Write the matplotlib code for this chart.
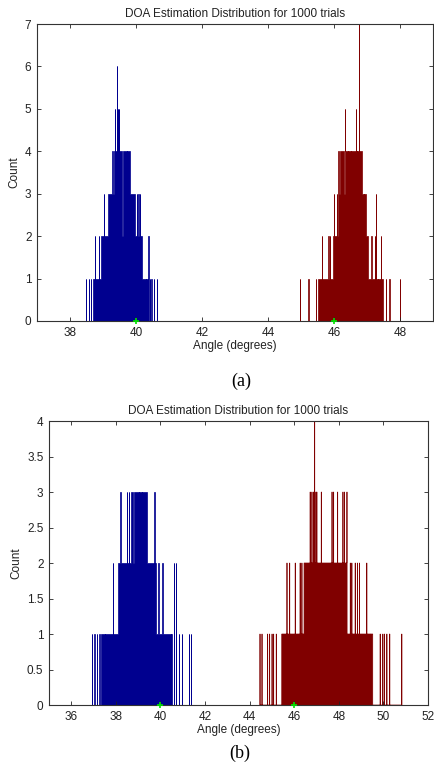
import numpy as np
import matplotlib
matplotlib.use("Agg")
import matplotlib.pyplot as plt

plt.rcParams['font.family'] = ['Liberation Sans', 'DejaVu Sans']

TITLE = "DOA Estimation Distribution for 1000 trials"
XLABEL = "Angle (degrees)"
YLABEL = "Count"
TRUE_DOA = [40, 46]
BIN = 0.01

# panel (a): solid runs (left, right, count), single bins (angle, count), dips (angle, count)
A_BLUE_BANDS = [(38.71, 40.36, 1), (38.95, 40.17, 2), (39.16, 39.97, 3), (39.28, 39.82, 4)]
A_BLUE_SPIKES = [(38.50, 1), (38.57, 1), (38.64, 1), (40.43, 1), (40.47, 1), (40.55, 1), (40.63, 1),
                 (38.76, 2), (38.88, 2), (40.37, 2), (39.03, 3), (40.02, 3), (40.07, 3), (40.12, 3),
                 (39.36, 5), (39.48, 5), (39.44, 5), (39.41, 6)]
A_BLUE_DIPS = [(39.59, 2), (39.31, 3), (39.72, 3), (40.30, 0), (38.80, 1), (39.12, 2)]

A_RED_BANDS = [(45.52, 47.49, 1), (45.96, 47.04, 2), (46.08, 46.97, 3), (46.13, 46.84, 4)]
A_RED_SPIKES = [(44.97, 1), (45.22, 1), (45.23, 1), (45.45, 1), (47.58, 1), (47.67, 1), (47.68, 1),
                (48.00, 1), (45.63, 2), (45.83, 2), (45.88, 2), (47.14, 2), (47.24, 2), (47.42, 2),
                (46.00, 3), (47.27, 3), (46.33, 5), (46.67, 5), (46.76, 7)]
A_RED_DIPS = [(46.17, 3), (46.32, 3), (46.42, 3), (46.52, 3), (46.70, 3), (46.91, 1), (47.33, 0),
              (47.55, 0), (46.10, 2)]

# panel (b)
B_BLUE_BANDS = [(37.34, 40.51, 1), (38.08, 39.69, 2), (38.67, 39.39, 3)]
B_BLUE_SPIKES = [(36.93, 1), (37.04, 1), (37.15, 1), (37.26, 1), (40.81, 1), (40.96, 1),
                 (41.28, 1), (41.35, 1), (37.87, 2), (39.77, 2), (39.91, 2), (40.09, 2),
                 (40.59, 2), (40.69, 2), (38.20, 3), (38.50, 3), (38.57, 3), (39.73, 3)]
B_BLUE_DIPS = [(38.79, 2), (39.02, 2), (39.17, 2), (40.46, 0), (40.02, 1), (37.50, 0)]

B_RED_BANDS = [(45.44, 49.52, 1), (46.44, 48.36, 2)]
B_RED_SPIKES = [(44.47, 1), (44.55, 1), (44.80, 1), (44.89, 1), (45.00, 1), (45.07, 1), (45.19, 1),
                (49.85, 1), (49.97, 1), (50.04, 1), (50.15, 1), (50.27, 1), (50.28, 1), (50.82, 1),
                (45.67, 2), (45.79, 2), (46.04, 2), (46.26, 2), (46.34, 2), (48.51, 2), (48.58, 2),
                (48.73, 2), (48.83, 2), (48.92, 2), (49.25, 2),
                (46.71, 3), (46.79, 3), (46.86, 3), (46.97, 3), (47.01, 3), (47.21, 3), (47.69, 3),
                (47.76, 3), (47.94, 3), (48.18, 3), (48.25, 3), (48.36, 3), (46.91, 4)]
B_RED_DIPS = [(47.61, 1), (48.21, 1), (49.40, 0)]

BLUE = "#00008F"
RED = "#800000"


def build_hist(bands, spikes, dips):
    # bin edges only over the occupied range so the outline never runs along the axis
    lo = min([b[0] for b in bands] + [s[0] for s in spikes]) - BIN
    hi = max([b[1] for b in bands] + [s[0] for s in spikes]) + BIN
    edges = np.arange(lo, hi + BIN / 2, BIN)
    centers = edges[:-1] + BIN / 2
    counts = np.zeros(len(centers))
    for a, b, c in bands:
        m = (centers >= a) & (centers <= b)
        counts[m] = np.maximum(counts[m], c)
    for a, c in spikes:
        i = int(np.argmin(np.abs(centers - a)))
        counts[i] = max(counts[i], c)
    for a, c in dips:
        i = int(np.argmin(np.abs(centers - a)))
        counts[i] = c
    return edges, counts


def panel(ax, xlim, ylim, yticks, xticks, series):
    for bands, spikes, dips, col in series:
        edges, counts = build_hist(bands, spikes, dips)
        ax.stairs(counts, edges, fill=True, facecolor=col, edgecolor=col, linewidth=0.5)
    ax.plot(TRUE_DOA, [0, 0], '+', color='#00E000', ms=5, mew=1.2, clip_on=False, zorder=5)
    ax.set_xlim(xlim)
    ax.set_ylim(ylim)
    ax.set_xticks(xticks)
    ax.set_yticks(yticks)
    ax.set_yticklabels([('%g' % t) for t in yticks])
    ax.tick_params(direction='in', length=3, width=0.6, top=True, right=True,
                   labelsize=8.5, colors='#222222', pad=4)
    for s in ax.spines.values():
        s.set_linewidth(0.8)
        s.set_color('#333333')
        s.set_zorder(3)
    ax.set_title(TITLE, fontsize=8.5, color='#222222', pad=5)
    ax.set_xlabel(XLABEL, fontsize=8.5, color='#222222', labelpad=1)
    ax.set_ylabel(YLABEL, fontsize=8.5, color='#222222', labelpad=3)


fig = plt.figure(figsize=(4.34, 7.67), dpi=100)
ax1 = fig.add_axes([0.0853, 0.5815, 0.912, 0.3872])
ax2 = fig.add_axes([0.1129, 0.0808, 0.8733, 0.3703])

panel(ax1, (37, 49), (0, 7), list(range(0, 8)), list(range(38, 49, 2)),
      [(A_BLUE_BANDS, A_BLUE_SPIKES, A_BLUE_DIPS, BLUE),
       (A_RED_BANDS, A_RED_SPIKES, A_RED_DIPS, RED)])
panel(ax2, (35, 52), (0, 4), [0, 0.5, 1, 1.5, 2, 2.5, 3, 3.5, 4], list(range(36, 53, 2)),
      [(B_BLUE_BANDS, B_BLUE_SPIKES, B_BLUE_DIPS, BLUE),
       (B_RED_BANDS, B_RED_SPIKES, B_RED_DIPS, RED)])

fig.text(0.555, 1 - 381 / 767, "(a)", fontsize=13, family='Liberation Serif', ha='center', va='center')
fig.text(0.552, 1 - 753 / 767, "(b)", fontsize=13, family='Liberation Serif', ha='center', va='center')

fig.savefig("out.png", dpi=100)
